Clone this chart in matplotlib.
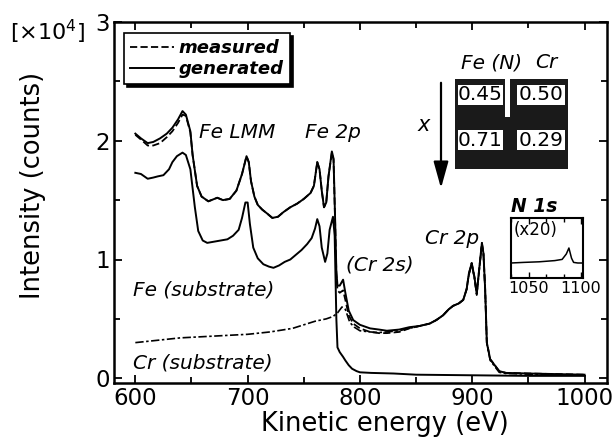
import numpy as np
import matplotlib
matplotlib.use("Agg")
import matplotlib.pyplot as plt
from matplotlib.patches import Rectangle
from matplotlib.ticker import MultipleLocator

W, H = 616, 438

# Fe-Cr-N film, generated spectrum (solid)
e_top = [600, 605, 611, 616, 622, 628, 633, 638, 642, 645, 649, 651, 655, 659, 665, 673, 678,
         684, 690, 695, 699, 701, 703, 706, 709, 713, 717, 722, 727, 732, 738, 744, 750, 756,
         759, 762, 764, 766, 768, 770, 772, 775, 776.5, 778, 779, 780, 782, 785, 787, 790, 794,
         800, 809, 817, 824, 835, 844, 853, 862, 868, 874, 879, 883, 888, 892, 895, 897, 899.5,
         902, 904, 906, 908.6, 910, 911.5, 913, 916, 920, 924, 930, 950, 975, 1000]
gen_top = [2.06, 2.02, 1.98, 1.99, 2.02, 2.06, 2.11, 2.18, 2.25, 2.22, 2.08, 1.88, 1.62, 1.53,
           1.49, 1.52, 1.50, 1.51, 1.58, 1.72, 1.87, 1.82, 1.66, 1.53, 1.46, 1.42, 1.39, 1.35,
           1.36, 1.40, 1.44, 1.47, 1.51, 1.56, 1.62, 1.82, 1.76, 1.58, 1.44, 1.48, 1.70, 1.91,
           1.85, 1.30, 0.90, 0.78, 0.78, 0.83, 0.72, 0.57, 0.49, 0.45, 0.42, 0.41, 0.40, 0.41,
           0.43, 0.44, 0.46, 0.49, 0.53, 0.58, 0.61, 0.63, 0.66, 0.75, 0.88, 0.97, 0.85, 0.71,
           0.90, 1.14, 1.05, 0.75, 0.30, 0.16, 0.11, 0.06, 0.045, 0.04, 0.035, 0.03]
# Fe-Cr-N film, measured spectrum (dashed)
meas_top = [2.05, 2.01, 1.96, 1.96, 1.98, 2.03, 2.08, 2.15, 2.22, 2.21, 2.07, 1.88, 1.62, 1.53,
            1.49, 1.52, 1.50, 1.51, 1.58, 1.72, 1.87, 1.82, 1.66, 1.53, 1.46, 1.42, 1.39, 1.35,
            1.36, 1.40, 1.44, 1.47, 1.51, 1.56, 1.62, 1.82, 1.76, 1.58, 1.44, 1.48, 1.70, 1.90,
            1.84, 1.28, 0.88, 0.74, 0.72, 0.74, 0.66, 0.53, 0.46, 0.42, 0.39, 0.38, 0.38, 0.39,
            0.42, 0.44, 0.46, 0.49, 0.53, 0.58, 0.61, 0.63, 0.66, 0.75, 0.88, 0.97, 0.85, 0.71,
            0.90, 1.14, 1.05, 0.75, 0.30, 0.16, 0.11, 0.06, 0.045, 0.04, 0.035, 0.03]

# Fe substrate
e_fe = [600, 605, 611, 616, 620, 625, 630, 633, 637, 642, 645, 649, 653, 656, 660, 664, 670,
        676, 682, 687, 692, 695, 698, 700, 702, 705, 709, 714, 719, 723, 728, 733, 738, 743,
        748, 753, 757, 760, 762, 764, 766, 769, 771, 773, 776, 777.5, 779, 780, 782, 785, 787,
        790, 793, 797, 800, 810, 830, 850, 900, 950, 1000]
fe_sub = [1.73, 1.72, 1.68, 1.69, 1.70, 1.71, 1.76, 1.82, 1.87, 1.90, 1.88, 1.76, 1.44, 1.24,
          1.16, 1.14, 1.15, 1.16, 1.17, 1.20, 1.25, 1.35, 1.48, 1.48, 1.30, 1.10, 1.01, 0.96,
          0.94, 0.93, 0.95, 0.98, 1.00, 1.04, 1.08, 1.13, 1.18, 1.26, 1.34, 1.28, 1.10, 0.98,
          1.05, 1.25, 1.36, 1.20, 0.50, 0.26, 0.22, 0.18, 0.15, 0.11, 0.08, 0.06, 0.05, 0.045,
          0.04, 0.03, 0.025, 0.02, 0.02]

# Cr substrate
e_cr = [600, 620, 640, 660, 680, 700, 720, 740, 750, 760, 770, 776, 780, 784, 787, 791, 795,
        800, 809, 817, 824, 835, 844, 853, 862, 868, 874, 879, 883, 888, 892, 895, 897, 899.5,
        902, 904, 906, 908.6, 910, 911.5, 913, 916, 920, 924, 930, 950, 975, 1000]
cr_sub = [0.30, 0.32, 0.34, 0.35, 0.36, 0.37, 0.39, 0.42, 0.45, 0.48, 0.50, 0.52, 0.55, 0.60,
          0.58, 0.47, 0.43, 0.40, 0.39, 0.385, 0.39, 0.40, 0.42, 0.44, 0.46, 0.49, 0.53, 0.58,
          0.61, 0.63, 0.66, 0.75, 0.87, 0.96, 0.84, 0.70, 0.89, 1.13, 1.04, 0.74, 0.29, 0.15,
          0.10, 0.05, 0.04, 0.035, 0.03, 0.025]

# N 1s inset (x20)
e_n1s = [1033, 1045, 1060, 1075, 1082, 1086, 1088.5, 1091, 1093, 1097, 1102]
n1s = [0.25, 0.26, 0.27, 0.29, 0.31, 0.40, 0.50, 0.33, 0.26, 0.25, 0.25]

# composition table
tab_cols = ["Fe (N)", "Cr"]
fe_frac = [0.45, 0.71]
cr_frac = [0.50, 0.29]

fig = plt.figure(figsize=(W / 100, H / 100), dpi=100)
ax = fig.add_axes([114 / W, 1 - 383 / H, 493 / W, 361 / H])

ax.plot(e_fe, fe_sub, color="black", lw=1.4)
ax.plot(e_cr, cr_sub, color="black", lw=1.2, linestyle=(0, (5, 1.5, 1.5, 1.5)))
ax.plot(e_top, meas_top, color="black", lw=1.3, linestyle=(0, (4, 1.8)), label="measured")
ax.plot(e_top, gen_top, color="black", lw=1.4, label="generated")

ax.set_xlim(581, 1020)
ax.set_ylim(-0.04, 3.0)
ax.set_xticks([600, 700, 800, 900, 1000])
ax.set_yticks([0, 1, 2, 3])
ax.xaxis.set_minor_locator(MultipleLocator(50))
ax.yaxis.set_minor_locator(MultipleLocator(0.5))
ax.tick_params(which="both", direction="in", top=True, right=True, width=1.3)
ax.tick_params(which="major", length=6, labelsize=16.5, pad=3)
ax.tick_params(which="minor", length=4.5)
for s in ax.spines.values():
    s.set_linewidth(1.8)

ax.set_xlabel("Kinetic energy (eV)", fontsize=18.5)
ax.set_ylabel("Intensity (counts)", fontsize=18.5)
ax.xaxis.set_label_coords(0.55, -0.078)
ax.yaxis.set_label_coords(-0.138, 0.546)
fig.text(10 / W, 1 - 32 / H, "[×10$^4$]", fontsize=16, va="center", ha="left")

lab = dict(fontsize=14.5, style="italic", va="center", ha="left")
ax.text(657, 2.07, "Fe LMM", **lab)
ax.text(751, 2.07, "Fe 2p", **lab)
ax.text(787.5, 0.95, "(Cr 2s)", **lab)
ax.text(858, 1.18, "Cr 2p", **lab)
ax.text(598, 0.74, "Fe (substrate)", **lab)
ax.text(598, 0.13, "Cr (substrate)", **lab)

leg = ax.legend(loc="upper left", bbox_to_anchor=(0.02, 0.97), borderaxespad=0,
                handlelength=2.4, handletextpad=0.3, labelspacing=0.15, borderpad=0.35,
                fancybox=False, edgecolor="black", framealpha=1,
                prop=dict(style="italic", weight="bold", size=13),
                shadow={"color": "black", "alpha": 1, "ox": 2, "oy": -2})
leg.get_frame().set_linewidth(1.2)


def fig_rect(x0, y0, x1, y1, color):
    fig.patches.append(Rectangle((x0 / W, 1 - y1 / H), (x1 - x0) / W, (y1 - y0) / H,
                                 transform=fig.transFigure, facecolor=color,
                                 edgecolor="none", zorder=5))


# composition table
fig_rect(455, 79, 568, 169, "#1a1a1a")
fig_rect(505, 79, 510, 117, "white")
cell_x = [(458, 503), (517, 565)]
cell_y = [(85, 105), (130, 150)]
for i in range(2):
    for j, vals in enumerate([fe_frac, cr_frac]):
        x0, x1 = cell_x[j]
        y0, y1 = cell_y[i]
        fig_rect(x0, y0, x1, y1, "white")
        fig.text((x0 + x1) / 2 / W, 1 - (y0 + y1) / 2 / H, f"{vals[i]:.2f}",
                 fontsize=14.5, ha="center", va="center", zorder=6)
fig.text(492 / W, 1 - 63 / H, tab_cols[0], fontsize=14.5, style="italic",
         ha="center", va="center")
fig.text(546 / W, 1 - 63 / H, tab_cols[1], fontsize=14.5, style="italic",
         ha="center", va="center")
ax.annotate("", xy=(441 / W, 1 - 191 / H), xytext=(441 / W, 1 - 80 / H),
            xycoords="figure fraction", textcoords="figure fraction",
            arrowprops=dict(arrowstyle="-|>,head_length=0.9,head_width=0.25",
                            lw=1.6, color="black", mutation_scale=18))
fig.text(424 / W, 1 - 125 / H, "x", fontsize=15, style="italic", ha="center", va="center")

# N 1s inset
axin = fig.add_axes([511 / W, 1 - 278 / H, 72 / W, 60 / H])
axin.plot(e_n1s, n1s, color="black", lw=1.1)
axin.set_xlim(1033, 1102)
axin.set_ylim(0, 1)
axin.set_xticks([1050, 1100])
axin.xaxis.set_minor_locator(MultipleLocator(50 / 3))
axin.set_yticks([])
axin.tick_params(which="both", direction="in", top=True, width=1.0, labelsize=11.5, pad=2)
axin.tick_params(which="major", length=4)
axin.tick_params(which="minor", length=3)
for s in axin.spines.values():
    s.set_linewidth(1.5)
axin.text(0.04, 0.80, "(x20)", transform=axin.transAxes, fontsize=12, va="center")
fig.text(511 / W, 1 - 206 / H, "N 1s", fontsize=13.5, style="italic", weight="bold",
         ha="left", va="center")

fig.savefig("out.png", dpi=100)
